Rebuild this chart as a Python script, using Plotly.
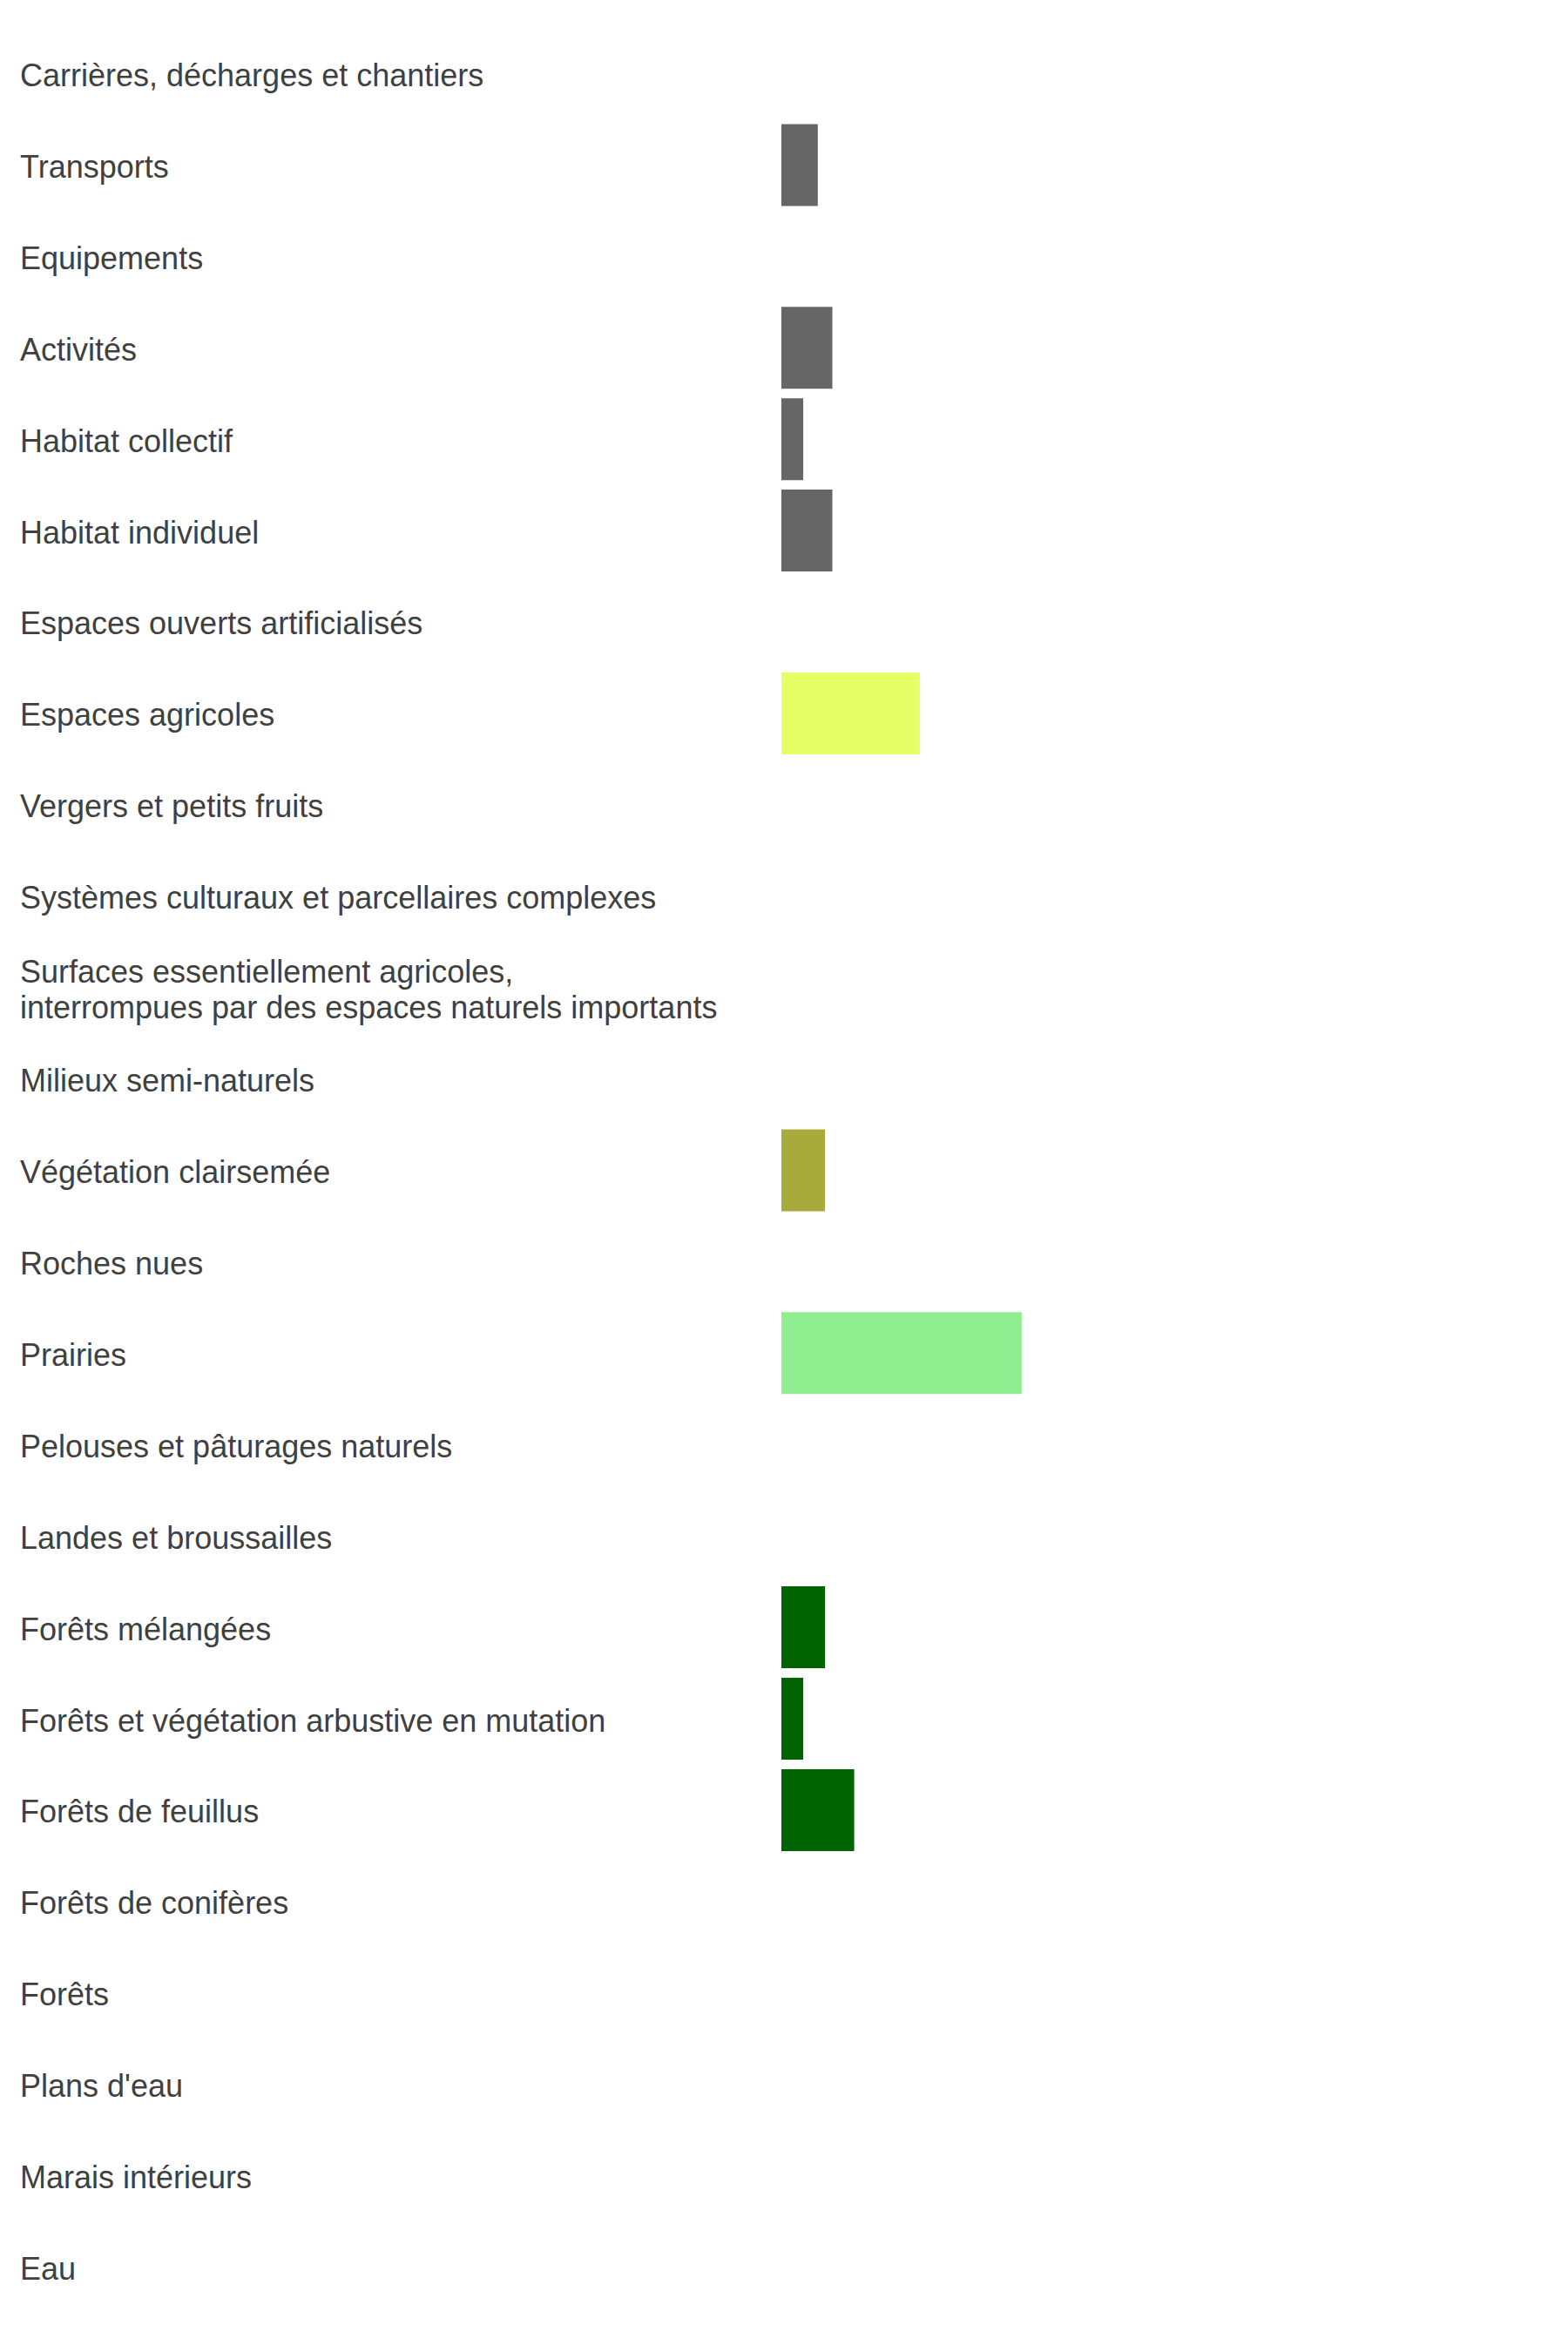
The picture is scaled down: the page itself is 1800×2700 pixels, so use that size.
import plotly.graph_objects as go

categories = [
    "Carrières, décharges et chantiers",
    "Transports",
    "Equipements",
    "Activités",
    "Habitat collectif",
    "Habitat individuel",
    "Espaces ouverts artificialisés",
    "Espaces agricoles",
    "Vergers et petits fruits",
    "Systèmes culturaux et parcellaires complexes",
    "Surfaces essentiellement agricoles,<br>interrompues par des espaces naturels importants",
    "Milieux semi-naturels",
    "Végétation clairsemée",
    "Roches nues",
    "Prairies",
    "Pelouses et pâturages naturels",
    "Landes et broussailles",
    "Forêts mélangées",
    "Forêts et végétation arbustive en mutation",
    "Forêts de feuillus",
    "Forêts de conifères",
    "Forêts",
    "Plans d'eau",
    "Marais intérieurs",
    "Eau",
]
values = [0, 5, 0, 7, 3, 7, 0, 19, 0, 0, 0, 0, 6, 0, 33, 0, 0, 6, 3, 10, 0, 0, 0, 0, 0]
colors = [
    "#666666", "#666666", "#666666", "#666666", "#666666", "#666666", "#666666",
    "#e6ff66", "#e6ff66", "#e6ff66", "#e6ff66",
    "#a8ab3b", "#a8ab3b", "#a8ab3b",
    "#90ee90", "#90ee90", "#90ee90",
    "#006400", "#006400", "#006400", "#006400", "#006400",
    "#4f81bd", "#4f81bd", "#4f81bd",
]

W, H = 1800, 2700
FONT = "Liberation Sans, Arial, sans-serif"
FS = 36
LINE = 41

fig = go.Figure(
    go.Bar(
        y=list(range(len(categories))),
        x=values,
        orientation="h",
        marker=dict(color=colors, line=dict(width=0)),
        hoverinfo="skip",
    )
)

annotations = []
for i, cat in enumerate(categories):
    lines = cat.split("<br>")
    n = len(lines)
    for j, ln in enumerate(lines):
        shift = ((n - 1) / 2 - j) * LINE - 2
        annotations.append(
            dict(
                x=21 / W,
                xref="paper",
                y=i,
                yref="y",
                text=ln,
                showarrow=False,
                xanchor="left",
                yanchor="middle",
                yshift=shift,
                font=dict(family=FONT, size=FS, color="#404040"),
            )
        )

fig.update_layout(
    width=W,
    height=H,
    margin=dict(l=0, r=0, t=32, b=45),
    paper_bgcolor="white",
    plot_bgcolor="white",
    bargap=0.104,
    showlegend=False,
    annotations=annotations,
    xaxis=dict(
        domain=[897 / W, 1733 / W],
        range=[0, 100],
        visible=False,
        fixedrange=True,
    ),
    yaxis=dict(
        range=[len(categories) - 0.5, -0.5],
        visible=False,
        fixedrange=True,
    ),
)

fig.write_html("out.html")
